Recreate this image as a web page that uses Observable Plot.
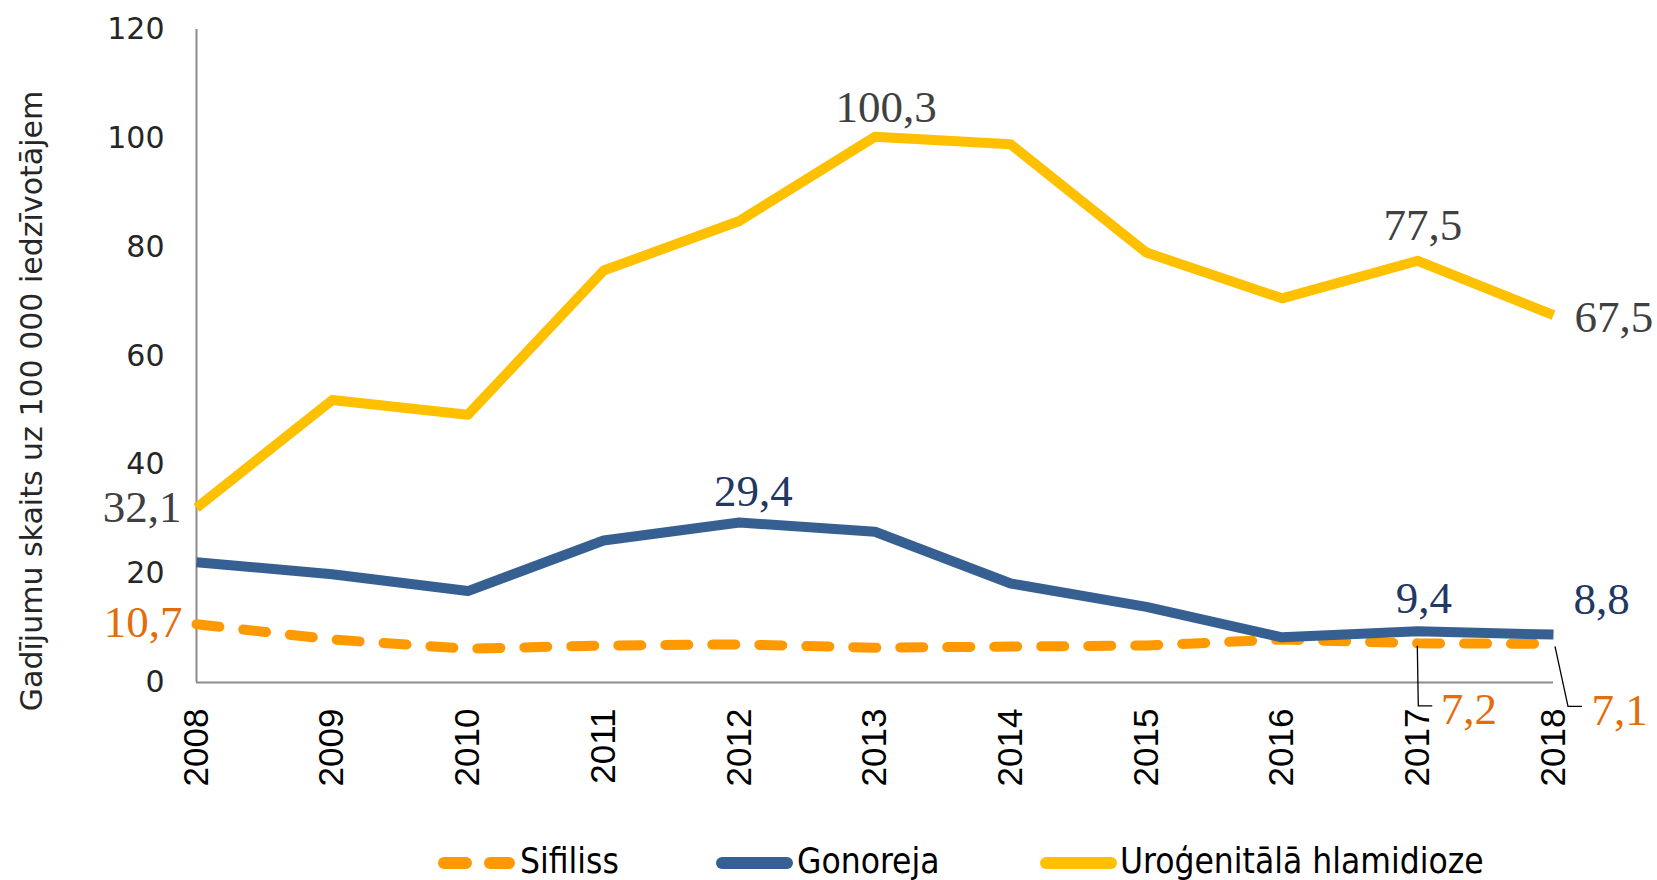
<!DOCTYPE html>
<html>
<head>
<meta charset="utf-8">
<script src="https://cdn.jsdelivr.net/npm/d3@7"></script>
<script src="https://cdn.jsdelivr.net/npm/@observablehq/plot@0.6"></script>
<style>
  body { margin: 0; background: #fff; }
  #chart svg { display: block; }
</style>
</head>
<body>
<div id="chart"></div>
<script>
// ---- data ----
const years = [2008, 2009, 2010, 2011, 2012, 2013, 2014, 2015, 2016, 2017, 2018];
const sifiliss = [10.7, 7.9, 6.2, 6.8, 7.0, 6.4, 6.6, 6.8, 7.9, 7.2, 7.1];
const gonoreja = [22.1, 19.9, 16.8, 26.1, 29.4, 27.7, 18.2, 13.9, 8.3, 9.4, 8.8];
const hlamidioze = [32.1, 51.9, 49.2, 75.7, 84.8, 100.3, 98.9, 79.0, 70.6, 77.5, 67.5];
const seriesNames = ["Sifiliss", "Gonoreja", "Uroģenitālā hlamidioze"];
const yTicks = [0, 20, 40, 60, 80, 100, 120];
const yLabel = "Gadījumu skaits uz 100 000 iedzīvotājem";

// ---- styles ----
const cOrange = "#FF9900", cBlue = "#376092", cYellow = "#FFC000";
const tGray = "#404040", tBlue = "#1F3864", tOrange = "#E46C0A";
const serif = "Liberation Serif, 'Times New Roman', serif";

const toRows = vals => years.map((year, i) => ({year, value: vals[i]}));
const sRows = toRows(sifiliss), gRows = toRows(gonoreja), hRows = toRows(hlamidioze);
const fmt = d => d.value.toFixed(1).replace(".", ",");
const at = (...ys) => (d => ys.includes(d.year));
const lbl = (rows, yrs, fill, opts) =>
  Plot.text(rows, {filter: at(...yrs), x: "year", y: "value", text: fmt,
    fontSize: 45, fontFamily: serif, fill, ...opts});

// leader lines for the two lower-right syphilis labels (pixel offsets from the point)
const leaders = (index, scales) => {
  const g = d3.create("svg:g").attr("fill", "none").attr("stroke", "#000").attr("stroke-width", 1.3);
  const shapes = {2017: [[0, 3], [1, 63], [15, 63]], 2018: [[2, 3], [15, 63], [29, 63]]};
  for (const d of sRows) {
    const s = shapes[d.year];
    if (!s) continue;
    const px = scales.x(d.year), py = scales.y(d.value);
    g.append("path").attr("d", "M" + s.map(([dx, dy]) => `${px + dx},${py + dy}`).join("L"));
  }
  return g.node();
};

const chart = Plot.plot({
  width: 1657,
  height: 800,
  marginLeft: 196,
  marginRight: 104,
  marginTop: 29,
  marginBottom: 118,
  x: {domain: [2008, 2018]},
  y: {domain: [0, 120]},
  style: {background: "#fff"},
  marks: [
    Plot.ruleY([0], {stroke: "#8c8c8c", strokeWidth: 2}),
    Plot.ruleX([2008], {stroke: "#8c8c8c", strokeWidth: 2}),
    Plot.axisY({ticks: yTicks, tickSize: 0, tickPadding: 32, fontSize: 30,
      fontFamily: "DejaVu Sans", color: "#262626", label: null}),
    Plot.axisX({ticks: years, tickFormat: d => String(d), tickSize: 0, tickPadding: 26,
      tickRotate: -90, fontSize: 35, fontFamily: "Liberation Sans", color: "#000", label: null}),
    Plot.text([yLabel], {frameAnchor: "left", textAnchor: "middle", text: d => d, rotate: -90,
      dx: -164, dy: 45, fontSize: 30, fontFamily: "DejaVu Sans", fill: "#262626"}),
    Plot.line(sRows, {x: "year", y: "value", stroke: cOrange, strokeWidth: 10,
      strokeDasharray: "23,24", strokeLinecap: "round"}),
    Plot.line(gRows, {x: "year", y: "value", stroke: cBlue, strokeWidth: 10, strokeLinecap: "butt"}),
    Plot.line(hRows, {x: "year", y: "value", stroke: cYellow, strokeWidth: 10, strokeLinecap: "butt"}),
    // chlamydia labels
    lbl(hRows, [2008], tGray, {textAnchor: "end", dx: -15}),
    lbl(hRows, [2013], tGray, {lineAnchor: "bottom", dx: 11, dy: -15}),
    lbl(hRows, [2017], tGray, {lineAnchor: "bottom", dx: 5, dy: -21}),
    lbl(hRows, [2018], tGray, {textAnchor: "start", dx: 21, dy: 2}),
    // gonorrhoea labels
    lbl(gRows, [2012], tBlue, {lineAnchor: "bottom", dx: 14, dy: -17}),
    lbl(gRows, [2017], tBlue, {lineAnchor: "bottom", dx: 6, dy: -18}),
    lbl(gRows, [2018], tBlue, {lineAnchor: "bottom", dx: 48, dy: -21}),
    // syphilis labels
    lbl(sRows, [2008], tOrange, {textAnchor: "end", dx: -14, dy: -2}),
    lbl(sRows, [2017], tOrange, {textAnchor: "start", lineAnchor: "bottom", dx: 23, dy: 81}),
    lbl(sRows, [2018], tOrange, {textAnchor: "start", lineAnchor: "bottom", dx: 38, dy: 81}),
    leaders
  ]
});
document.getElementById("chart").appendChild(chart);

// ---- legend (below the plot) ----
const legendItems = [
  {name: seriesNames[0], color: cOrange, dash: "22,24", x0: 444, x1: 509, tx: 520},
  {name: seriesNames[1], color: cBlue, dash: null, x0: 722, x1: 787, tx: 797},
  {name: seriesNames[2], color: cYellow, dash: null, x0: 1046, x1: 1111, tx: 1120}
];
const legend = d3.create("svg").attr("width", 1657).attr("height", 80);
for (const it of legendItems) {
  const ln = legend.append("line")
    .attr("x1", it.x0).attr("x2", it.x1).attr("y1", 63).attr("y2", 63)
    .attr("stroke", it.color).attr("stroke-width", 12).attr("stroke-linecap", "round");
  if (it.dash) ln.attr("stroke-dasharray", it.dash);
  legend.append("text").attr("x", it.tx).attr("y", 73)
    .attr("font-family", "'DejaVu Sans Condensed', 'DejaVu Sans', sans-serif")
    .attr("font-stretch", "condensed")
    .attr("font-size", 35).attr("fill", "#000").text(it.name);
}
document.getElementById("chart").appendChild(legend.node());
</script>
</body>
</html>
